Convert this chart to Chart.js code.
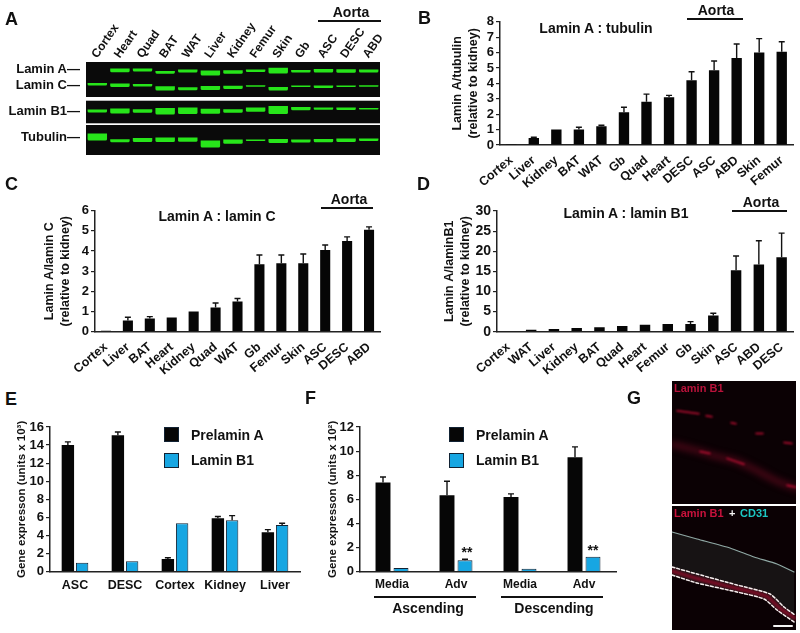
<!DOCTYPE html>
<html>
<head>
<meta charset="utf-8">
<title>Lamin expression</title>
<style>
  html, body { margin: 0; padding: 0; background: #fff; }
  #page { position: relative; width: 800px; height: 633px; overflow: hidden; font-family: "Liberation Sans", sans-serif; font-weight: bold; color: #111; }
  #page canvas { position: absolute; }
  .note { position: absolute; white-space: nowrap; line-height: 1; }
  .rule { position: absolute; background: #111; height: 1.5px; }
  .swatch { position: absolute; width: 15px; height: 15px; box-sizing: border-box; }
</style>
</head>
<body>
<div id="page"></div>
<script src="https://cdn.jsdelivr.net/npm/chart.js@4/dist/chart.umd.min.js"></script>
<script>
/* ---------- panel A: gel bands (position down the gel, band thickness) ---------- */
const laneLabels = ['Cortex', 'Heart', 'Quad', 'BAT', 'WAT', 'Liver', 'Kidney', 'Femur', 'Skin', 'Gb', 'ASC', 'DESC', 'ABD'];
const laminAPos = [null, 70.3, 70, 72.3, 71, 73, 72, 70.7, 70.7, 71.3, 70.7, 71, 71];
const laminAThick = [0, 3.8, 3, 2.8, 3.2, 4.8, 3.5, 2.6, 5.8, 2.6, 3.6, 3.6, 3];
const laminCPos = [84.3, 85.3, 85.3, 88.3, 88.7, 88, 87.3, 86, 88.7, 86.3, 86.7, 86.3, 86];
const laminCThick = [2.6, 3.6, 2.6, 4.2, 3, 3.8, 3.2, 1.6, 3.6, 1.6, 2.6, 1.6, 1.4];
const laminB1Pos = [111, 111, 111, 111.3, 110.7, 111.3, 111, 109.7, 110, 108.7, 108.7, 108.7, 108.7];
const laminB1Thick = [3, 5.2, 3.6, 6.6, 6.6, 5, 3.6, 4.2, 8, 3.2, 2.2, 2.6, 1.6];
const tubulinPos = [137, 140.7, 140, 139.7, 139.7, 144, 141.7, 140.3, 141, 141, 140.7, 140.3, 139.7];
const tubulinThick = [7.2, 3, 4.2, 4.6, 4.2, 7, 4.2, 1.6, 4.2, 3.2, 3.2, 3.6, 2.6];
const gelRows = [[62, 97], [100.7, 123.3], [125, 155]];

/* ---------- panels B, C, D ---------- */
const bLabels = ['Cortex', 'Liver', 'Kidney', 'BAT', 'WAT', 'Gb', 'Quad', 'Heart', 'DESC', 'ASC', 'ABD', 'Skin', 'Femur'];
const bValues = [0.05, 0.45, 1, 1, 1.22, 2.12, 2.8, 3.1, 4.2, 4.85, 5.65, 6, 6.05];
const bTops = [0.08, 0.5, 1, 1.15, 1.28, 2.45, 3.3, 3.22, 4.75, 5.45, 6.55, 6.9, 6.7];

const cLabels = ['Cortex', 'Liver', 'BAT', 'Heart', 'Kidney', 'Quad', 'WAT', 'Gb', 'Femur', 'Skin', 'ASC', 'DESC', 'ABD'];
const cValues = [0.05, 0.55, 0.65, 0.7, 1, 1.2, 1.5, 3.35, 3.4, 3.4, 4.05, 4.5, 5.05];
const cTops = [0.07, 0.72, 0.75, 0.7, 1, 1.42, 1.65, 3.8, 3.8, 3.85, 4.3, 4.7, 5.2];

const dLabels = ['Cortex', 'WAT', 'Liver', 'Kidney', 'BAT', 'Quad', 'Heart', 'Femur', 'Gb', 'Skin', 'ASC', 'ABD', 'DESC'];
const dValues = [0.2, 0.5, 0.7, 0.95, 1.1, 1.4, 1.7, 1.9, 1.9, 4, 15.3, 16.7, 18.5];
const dTops = [0.25, 0.6, 0.8, 1, 1.2, 1.5, 1.8, 2, 2.5, 4.6, 18.8, 22.6, 24.5];

/* ---------- panels E, F ---------- */
const eLabels = ['ASC', 'DESC', 'Cortex', 'Kidney', 'Liver'];
const ePrelamin = [14, 15.1, 1.4, 5.9, 4.35];
const ePrelaminTops = [14.35, 15.45, 1.55, 6.1, 4.65];
const eLaminB1 = [1, 1.15, 5.35, 5.7, 5.15];
const eLaminB1Tops = [1.05, 1.2, 5.4, 6.2, 5.35];

const fLabels = ['Media', 'Adv', 'Media', 'Adv'];
const fPrelamin = [7.4, 6.35, 6.2, 9.5];
const fPrelaminTops = [7.85, 7.5, 6.45, 10.35];
const fLaminB1 = [0.3, 0.95, 0.25, 1.25];
const fLaminB1Tops = [0.33, 1.03, 0.28, 1.27];

/* ---------- panel G: traces across the micrograph ---------- */
const gStreaks = [
  [{x: 5, y: 30}, {x: 27, y: 33}], [{x: 34, y: 35}, {x: 40, y: 36}], [{x: 59, y: 42}, {x: 64, y: 43}],
  [{x: 84, y: 53}, {x: 91, y: 53}], [{x: 112, y: 62}, {x: 120, y: 63}], [{x: 115, y: 105}, {x: 124, y: 107}],
  [{x: 28, y: 71}, {x: 38, y: 73}], [{x: 55, y: 78}, {x: 72, y: 84}]
];
const gDimBand = [{x: 1, y: 64}, {x: 28, y: 71}, {x: 45, y: 76}, {x: 65, y: 81}, {x: 82, y: 89}, {x: 105, y: 101}, {x: 124, y: 108}];
const gEndothelium = [{x: 0, y: 26}, {x: 25, y: 33}, {x: 58, y: 42}, {x: 82, y: 51}, {x: 105, y: 58}, {x: 122, y: 66}];
const gDashUpper = [{x: 0, y: 61}, {x: 25, y: 68}, {x: 65, y: 79}, {x: 98, y: 88}, {x: 112, y: 101}, {x: 123, y: 109}];
const gDashLower = [{x: 0, y: 69}, {x: 25, y: 77}, {x: 65, y: 86}, {x: 92, y: 93}, {x: 105, y: 104}, {x: 122, y: 116}];
const gMedia = [{x: 0, y: 65}, {x: 25, y: 72.5}, {x: 65, y: 82.5}, {x: 95, y: 90.5}, {x: 108, y: 102.5}, {x: 123, y: 112}];
const gScaleBar = [{x: 102, y: 120}, {x: 120, y: 120}];

const FONT = '"Liberation Sans", sans-serif';
const BLACK = '#060606';
const BLUE = '#17a6e2';
const page = document.getElementById('page');
Chart.defaults.font.family = FONT;
Chart.defaults.color = '#111';
Chart.defaults.animation = false;

function addCanvas(x, y, w, h) {
  const c = document.createElement('canvas');
  c.width = w; c.height = h;
  c.style.left = x + 'px'; c.style.top = y + 'px';
  c.style.width = w + 'px'; c.style.height = h + 'px';
  page.appendChild(c);
  return c;
}

function note(text, x, y, size, align, color, weight) {
  const el = document.createElement('div');
  el.className = 'note';
  el.textContent = text;
  el.style.fontSize = size + 'px';
  el.style.left = x + 'px';
  el.style.top = (y - size / 2) + 'px';
  if (align === 'center') el.style.transform = 'translateX(-50%)';
  if (align === 'right') el.style.transform = 'translateX(-100%)';
  if (color) el.style.color = color;
  if (weight) el.style.fontWeight = weight;
  page.appendChild(el);
  return el;
}

function rule(x1, x2, y) {
  const el = document.createElement('div');
  el.className = 'rule';
  el.style.left = x1 + 'px';
  el.style.width = (x2 - x1) + 'px';
  el.style.top = y + 'px';
  page.appendChild(el);
}

// error bars are only drawn upward, from the bar top to the value in dataset.tops
const errorBars = {
  id: 'errorBars',
  afterDatasetsDraw(chart) {
    const ctx = chart.ctx, yScale = chart.scales.y;
    chart.data.datasets.forEach(function (ds, d) {
      if (!ds.tops) return;
      chart.getDatasetMeta(d).data.forEach(function (bar, i) {
        const top = yScale.getPixelForValue(ds.tops[i]);
        if (bar.y - top < 0.5) return;
        ctx.save();
        ctx.strokeStyle = '#111';
        ctx.lineWidth = 1.4;
        ctx.beginPath();
        ctx.moveTo(bar.x, bar.y);
        ctx.lineTo(bar.x, top);
        ctx.moveTo(bar.x - 3, top);
        ctx.lineTo(bar.x + 3, top);
        ctx.stroke();
        ctx.restore();
      });
    });
  }
};

// datasets may ask for a soft edge, that is how the gel and the micrograph look
const softEdges = {
  id: 'softEdges',
  beforeDatasetDraw(chart, args) {
    const blur = chart.data.datasets[args.index].blur;
    if (blur) chart.ctx.filter = 'blur(' + blur + 'px)';
  },
  afterDatasetDraw(chart) {
    chart.ctx.filter = 'none';
  }
};

const imageBackdrop = {
  id: 'imageBackdrop',
  beforeDatasetsDraw(chart, args, opts) {
    const ctx = chart.ctx, a = chart.chartArea, y = chart.scales.y;
    ctx.save();
    ctx.fillStyle = opts.color;
    (opts.rows || [[y.min, y.max]]).forEach(function (r) {
      const p1 = y.getPixelForValue(r[0]), p2 = y.getPixelForValue(r[1]);
      ctx.fillRect(a.left, Math.min(p1, p2), a.right - a.left, Math.abs(p2 - p1));
    });
    ctx.restore();
  }
};

function barPanel(box, area, labels, datasets, opt) {
  const canvas = addCanvas(box[0], box[1], box[2] - box[0], box[3] - box[1]);
  return new Chart(canvas, {
    type: 'bar',
    data: { labels: labels, datasets: datasets },
    options: {
      responsive: false,
      layout: { padding: { top: area.t - box[1], right: box[2] - area.r, bottom: 0, left: 0 } },
      plugins: { legend: { display: false }, tooltip: { enabled: false } },
      scales: {
        x: {
          grid: { display: true, drawOnChartArea: false, drawTicks: false },
          border: { color: '#222', width: 1.5 },
          ticks: { font: { size: opt.xSize, weight: 'bold' }, color: '#111', autoSkip: false, minRotation: opt.rotation, maxRotation: opt.rotation, padding: opt.xPad },
          afterFit(s) { s.height = box[3] - area.b; s.paddingLeft = 0; s.paddingRight = 0; }
        },
        y: {
          min: 0, max: opt.max,
          grid: { display: true, drawOnChartArea: false, drawTicks: true, tickLength: 4, color: '#222', lineWidth: 1.2 },
          border: { color: '#222', width: 1.5 },
          ticks: { stepSize: opt.step, autoSkip: false, font: { size: opt.ySize, weight: 'bold' }, color: '#111', padding: 2 },
          title: { display: true, text: opt.yTitle, font: { size: opt.titleSize, weight: 'bold', lineHeight: 1.3 }, color: '#111', padding: { top: opt.titlePad, bottom: 0 } },
          afterFit(s) { s.width = area.l - box[0]; s.paddingTop = 0; s.paddingBottom = 0; }
        }
      }
    },
    plugins: [errorBars]
  });
}

/* ---------- A ---------- */
function bandData(pos, thick) {
  return pos.map(function (p, i) { return p === null ? null : [p - thick[i] / 2, p + thick[i] / 2]; });
}
function gelSet(pos, thick) {
  return { data: bandData(pos, thick), backgroundColor: '#27e51a', barPercentage: 0.86, categoryPercentage: 1, borderRadius: 1.5, blur: 0.6, grouped: false };
}
new Chart(addCanvas(56, 0, 344, 155), {
  type: 'bar',
  data: { labels: laneLabels, datasets: [gelSet(laminAPos, laminAThick), gelSet(laminCPos, laminCThick), gelSet(laminB1Pos, laminB1Thick), gelSet(tubulinPos, tubulinThick)] },
  options: {
    responsive: false,
    layout: { padding: { left: 30, right: 20 } },
    plugins: { legend: { display: false }, tooltip: { enabled: false }, imageBackdrop: { color: '#0a0a0a', rows: gelRows } },
    scales: {
      x: {
        position: 'top',
        grid: { display: false },
        border: { display: false },
        ticks: { font: { size: 12, weight: 'bold' }, color: '#111', autoSkip: false, minRotation: 55, maxRotation: 55, padding: -7, labelOffset: 9 },
        afterFit(s) { s.height = 62; s.paddingLeft = 0; s.paddingRight = 0; }
      },
      y: { display: false, reverse: true, min: 62, max: 155 }
    }
  },
  plugins: [imageBackdrop, softEdges]
});
note('Lamin A\u2014', 80, 68, 13, 'right');
note('Lamin C\u2014', 80, 84, 13, 'right');
note('Lamin B1\u2014', 80, 110, 13, 'right');
note('Tubulin\u2014', 80, 136, 13, 'right');
note('Aorta', 351, 12, 14, 'center');
rule(318, 381, 20);

/* ---------- B, C, D ---------- */
function singleSet(values, tops) {
  return [{ data: values, tops: tops, backgroundColor: BLACK, barPercentage: 0.46, categoryPercentage: 1 }];
}
barPanel([440, 8, 800, 190], { l: 500, t: 21.7, r: 793, b: 145 }, bLabels, singleSet(bValues, bTops),
  { max: 8, step: 1, xSize: 12.5, ySize: 13, rotation: 40, xPad: 8, yTitle: ['Lamin A/tubulin', '(relative to kidney)'], titleSize: 12.5, titlePad: 9 });
note('Lamin A : tubulin', 596, 28, 14, 'center');
note('Aorta', 716, 10, 14, 'center');
rule(687, 743, 18);

barPanel([35, 198, 395, 378], { l: 95, t: 210.7, r: 380, b: 331.7 }, cLabels, singleSet(cValues, cTops),
  { max: 6, step: 1, xSize: 12.5, ySize: 13, rotation: 40, xPad: 8, yTitle: ['Lamin A/lamin C', '(relative to kidney)'], titleSize: 12.5, titlePad: 6 });
note('Lamin A : lamin C', 217, 216, 14, 'center');
note('Aorta', 349, 199, 14, 'center');
rule(321, 373, 207);

barPanel([435, 198, 800, 378], { l: 497, t: 211, r: 793, b: 331.7 }, dLabels, singleSet(dValues, dTops),
  { max: 30, step: 5, xSize: 12.5, ySize: 14, rotation: 40, xPad: 8, yTitle: ['Lamin A/laminB1', '(relative to kidney)'], titleSize: 12.5, titlePad: 6 });
note('Lamin A : lamin B1', 626, 213, 14, 'center');
note('Aorta', 761, 202, 14, 'center');
rule(732, 787, 210);

/* ---------- E, F ---------- */
function pairSets(black, blackTops, blue, blueTops, cat, bar) {
  return [
    { data: black, tops: blackTops, backgroundColor: BLACK, categoryPercentage: cat, barPercentage: bar },
    { data: blue, tops: blueTops, backgroundColor: BLUE, borderColor: '#123', borderWidth: 1, categoryPercentage: cat, barPercentage: bar }
  ];
}
function legendAt(x, y1, y2) {
  [[y1, BLACK, 'Prelamin A'], [y2, BLUE, 'Lamin B1']].forEach(function (row) {
    const s = document.createElement('div');
    s.className = 'swatch';
    s.style.left = x + 'px';
    s.style.top = row[0] + 'px';
    s.style.background = row[1];
    s.style.border = '1px solid #123';
    page.appendChild(s);
    note(row[2], x + 27, row[0] + 7.5, 14);
  });
}
barPanel([8, 415, 305, 600], { l: 50, t: 427, r: 300, b: 571.7 }, eLabels, pairSets(ePrelamin, ePrelaminTops, eLaminB1, eLaminB1Tops, 0.57, 0.87),
  { max: 16, step: 2, xSize: 12.5, ySize: 13, rotation: 0, xPad: 6, yTitle: 'Gene expresson (units x 10\u00B3)', titleSize: 11.5, titlePad: 6 });
legendAt(164, 427, 452.5);

barPanel([320, 415, 625, 600], { l: 360, t: 427, r: 616, b: 571.7 }, fLabels, pairSets(fPrelamin, fPrelaminTops, fLaminB1, fLaminB1Tops, 0.5625, 0.83),
  { max: 12, step: 2, xSize: 12, ySize: 13, rotation: 0, xPad: 6, yTitle: 'Gene expresson (units x 10\u00B2)', titleSize: 11.5, titlePad: 5 });
legendAt(449, 427, 452.5);
note('**', 467, 552, 14, 'center');
note('**', 593, 550, 14, 'center');
rule(374, 476, 596);
rule(501, 603, 596);
note('Ascending', 428, 608, 14, 'center');
note('Descending', 554, 608, 14, 'center');

/* ---------- G ---------- */
function trace(points, color, width, blur, extra) {
  return Object.assign({ data: points, showLine: true, borderColor: color, borderWidth: width, pointRadius: 0, tension: 0.2, blur: blur, borderCapStyle: 'round' }, extra || {});
}
function micrograph(x, y, w, h, datasets) {
  return new Chart(addCanvas(x, y, w, h), {
    type: 'scatter',
    data: { datasets: datasets },
    options: {
      responsive: false,
      layout: { padding: 0 },
      plugins: { legend: { display: false }, tooltip: { enabled: false }, imageBackdrop: { color: '#0b0104' } },
      scales: {
        x: { display: false, min: 0, max: 124 },
        y: { display: false, reverse: true, min: 0, max: 124 }
      }
    },
    plugins: [imageBackdrop, softEdges]
  });
}
const gTopSets = gStreaks.map(function (s) { return trace(s, '#c80f35', 1.5, 0.9); });
gTopSets.push(trace(gDimBand, '#470716', 6, 3));
micrograph(672, 381, 124, 123, gTopSets);

micrograph(672, 506, 124, 124, [
  trace(gScaleBar, '#f4f4f4', 2, 0),
  trace(gDashUpper, '#f6eeee', 1.5, 0.3, { borderDash: [3, 2] }),
  trace(gDashLower, '#f6eeee', 1.5, 0.3, { borderDash: [3, 2] }),
  trace(gMedia, '#8a0c28', 3.5, 1.5),
  trace(gEndothelium, '#8fa8a4', 1.2, 0.5, { fill: 2, backgroundColor: '#171314' })
]);
note('Lamin B1', 674, 388, 11, null, '#b8123a');
note('Lamin B1', 674, 513, 11, null, '#c8123c');
note('+', 729, 513, 11, null, '#f4f4f4');
note('CD31', 740, 513, 11, null, '#1cc8c4');

/* ---------- panel letters ---------- */
[['A', 5, 19], ['B', 418, 18], ['C', 5, 184], ['D', 417, 184], ['E', 5, 399], ['F', 305, 398], ['G', 627, 398]].forEach(function (p) {
  note(p[0], p[1], p[2], 18);
});
</script>
</body>
</html>
